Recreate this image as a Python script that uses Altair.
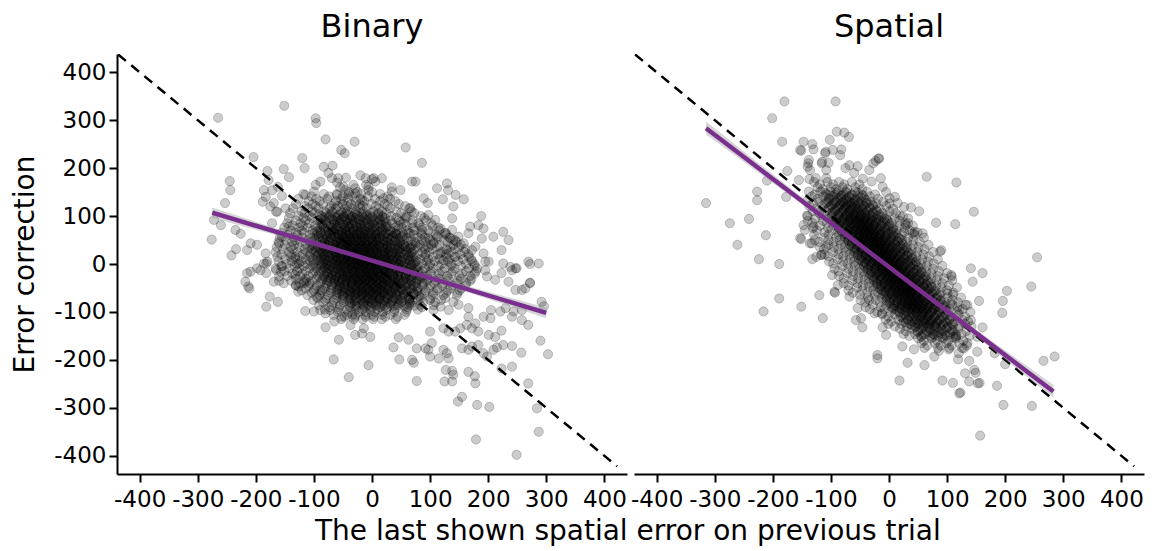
import altair as alt
import pandas as pd

panels = ["Binary", "Spatial"]
tick_values = [-400, -300, -200, -100, 0, 100, 200, 300, 400]

# ---- Binary: scattered points read individually (x, y pairs) ----
binary_outer = [
    -265,305, -151,330, -97,304, -96,294, -80,260, -30,255, -53,238, -47,231, -204,223, -120,221,
    -116,200, -83,203, -68,205, -152,198, -180,194, -178,175, -143,181, -245,173, -244,154, -253,127,
    -186,154, -183,140, -188,130, -172,154, -162,161, -155,142, -149,116, -163,109, -169,127, -115,144,
    -100,151, -97,165, -89,172, -272,92, -260,81, -276,51, -235,71, -226,63, -209,43, -198,40,
    -215,29, -234,31, -242,18, -183,22, -180,5, -186,1, -192,-13, -209,-16, -218,-37, -213,-47,
    -172,85, -165,109, -175,120, -160,43, -155,57, -143,78, -165,-13, -157,-16, -169,-37, -160,-26,
    -152,-40, -132,15, -126,1, -132,-23, -117,-40, -126,-47, -215,-19, -211,-51, -198,-9, -182,1,
    -182,-19, -166,-9, -155,-5, -160,-35, -176,-68, -162,-79, -182,-89, -131,-44, -127,-58, -113,-37,
    -115,-98, -100,-99, -89,-96, -80,-103, -72,-96, -95,-68, -89,-54, -80,-132, -65,-120, -52,-110,
    -57,-158, -66,-199, -40,-236, -6,-211, -37,-127, -29,-148, -17,-145, -3,-152, -14,-134, -34,-106,
    179,-366, 249,-398, 287,-350, 284,-301, 269,-249, 181,-294, 202,-298, 148,-287, 155,-277, 77,-244,
    125,-245, 138,-245, 140,-231, 127,-221, 138,-223, 166,-225, 177,-234, 178,-249, 223,-218, 241,-214,
    37,-174, 47,-199, 69,-200, 72,-206, 77,-176, 92,-176, 100,-193, 97,-179, 115,-197, 123,-179,
    129,-186, 132,-197, 155,-176, 166,-179, 172,-172, 183,-169, 192,-186, 198,-193, 209,-179, 215,-174,
    226,-169, 241,-171, 257,-185, 303,-188, 290,-160, 223,-139, 212,-152, 201,-148, 183,-141, 172,-134,
    163,-127, 152,-134, 143,-141, 132,-141, 123,-134, 269,-127, 258,-117, 241,-110, 46,-153, 63,-158,
    103,-165, 100,-141, 166,-110, 178,-124, 192,-110, 204,-113, 205,-96, 221,-99, 230,-92, 244,-99,
    258,-96, 292,-79, 296,-88, 272,0, 287,1, 272,-40, 258,-54, 247,-54, 235,-37, 241,-13, 249,-9,
    223,-19, 212,-33, 198,-26, 195,-13, 201,5, 166,-92, 149,-85, 140,-79, 132,-96, 118,-89, 106,-96,
    58,243, 86,211, 69,172, 75,172, 3,179, 6,172, 34,160, 49,154, 20,137, 112,158,
    129,168, 131,154, 144,144, 158,135, 122,135, 89,137, 96,127, 66,116, 60,99, 49,88,
    140,120, 138,95, 188,100, 169,78, 183,81, 192,74, 226,67, 235,50, 209,57, 223,29,
    195,5, 226,1, 238,-6, 269,5, 247,-9, 149,57, 158,43, 166,64, 178,36, 189,53,
    172,29, 192,22, 272,-39, 264,-51, 97,102, 109,92, 118,74, 126,64, 138,71, 135,54,
    143,50, 112,57, 97,54, 106,43, 118,22, 123,8, 143,15, 129,29, 80,85, 86,71,
    66,64, 75,43, 89,36, 57,36, 52,57, 40,64, 17,179, 34,151, -6,154, -45,180,
    -32,165, -20,185, -60,170, -75,190, -10,165, -25,150, -40,150, -55,160, 0,150, -69,179,
    -58,179, -49,161, -29,158, -11,179, 0,177, -6,161, -60,144, -46,154, -29,147, -17,133,
]

# ---- Binary: dense core, estimated row by row (row y, then the x of each point) ----
binary_core_y = [146, 141, 136, 131, 125, 121, 116, 110, 106, 100, 96, 91, 85, 80, 76, 70, 65, 61, 55, 50,
                 46, 40, 35, 31, 25, 20, 15, 10, 6, 0, -4, -9, -15, -20, -25, -31, -35, -40, -45, -51,
                 -55, -60, -65, -71, -75, -80, -86, -90, -95, -100, -106, -110, -115]
binary_core_x = [
    [-118,-83,-61,-40,-18,14],
    [-104,-74,-50,-34,-7,27],
    [-127,-96,-77,-53,-41,-20,5,31],
    [-109,-90,-62,-49,-28,-13,14,40],
    [-131,-102,-84,-65,-51,-36,-21,-1,22,46],
    [-116,-97,-70,-59,-43,-30,-16,7,27,57],
    [-136,-110,-92,-73,-62,-46,-36,-20,-9,12,31,64],
    [-121,-103,-83,-69,-53,-43,-27,-15,2,17,42,68],
    [-141,-116,-99,-79,-68,-52,-44,-29,-18,-3,11,25,50,73],
    [-126,-108,-87,-74,-59,-49,-35,-25,-10,1,18,33,57,84],
    [-143,-118,-103,-85,-73,-59,-50,-37,-28,-14,-4,11,22,42,58,90],
    [-131,-114,-93,-81,-66,-56,-43,-34,-20,-10,4,14,32,46,70,93],
    [-146,-123,-108,-89,-78,-64,-55,-42,-34,-21,-13,0,9,24,35,54,70,102],
    [-136,-119,-98,-86,-71,-61,-48,-39,-27,-18,-5,4,17,27,45,59,82,104],
    [-151,-126,-111,-94,-83,-69,-60,-47,-39,-27,-19,-7,1,14,24,40,51,70,86,114],
    [-140,-121,-102,-90,-75,-65,-52,-44,-32,-24,-12,-4,9,18,32,43,60,73,97,116],
    [-156,-131,-117,-99,-88,-74,-65,-53,-45,-34,-26,-15,-7,5,13,26,36,52,63,84,100,127],
    [-145,-128,-107,-95,-80,-71,-58,-50,-39,-31,-20,-12,-1,7,19,28,42,54,72,86,110,128],
    [-159,-135,-120,-103,-92,-78,-69,-57,-49,-38,-31,-20,-13,-2,7,14,26,35,49,60,78,91,114,133],
    [-148,-131,-110,-99,-85,-75,-62,-54,-43,-36,-25,-18,-7,0,11,19,31,41,55,67,86,100,124,140],
    [-161,-138,-123,-106,-95,-81,-72,-60,-53,-42,-35,-25,-18,-8,1,8,19,27,39,48,63,74,92,106,130,146],
    [-150,-134,-114,-102,-87,-78,-65,-57,-46,-39,-29,-22,-12,-5,5,12,24,32,45,55,70,82,102,116,140,153],
    [-164,-140,-125,-108,-97,-83,-74,-62,-55,-44,-37,-27,-20,-10,-4,6,13,24,32,44,53,67,79,97,112,135,150],
    [-153,-136,-116,-104,-89,-80,-67,-59,-48,-41,-31,-25,-14,-8,2,9,20,27,39,48,62,73,91,104,127,143,161],
    [-166,-143,-128,-111,-100,-86,-77,-65,-58,-47,-40,-30,-24,-13,-7,3,9,20,27,38,46,59,69,86,98,120,136,159],
    [-156,-139,-119,-107,-92,-83,-70,-62,-51,-44,-34,-28,-17,-11,-1,5,16,23,34,42,55,65,80,92,113,128,152,166],
    [-163,-140,-124,-107,-96,-83,-74,-62,-55,-44,-38,-27,-21,-11,-5,5,11,22,29,41,49,63,74,91,105,128,144,167],
    [-149,-132,-114,-102,-88,-79,-67,-59,-48,-42,-31,-25,-15,-9,1,7,18,25,36,44,57,67,83,97,116,133,157,171],
    [-161,-138,-122,-106,-95,-81,-73,-61,-54,-43,-37,-26,-20,-10,-4,6,12,23,30,42,51,65,76,94,108,131,148,172],
    [-147,-129,-111,-100,-86,-77,-65,-57,-46,-40,-29,-23,-13,-7,3,9,19,26,38,46,59,70,86,100,120,137,162,176],
    [-156,-133,-118,-102,-91,-78,-70,-58,-51,-40,-34,-23,-17,-7,-1,9,15,26,33,45,54,68,80,98,114,136,153,177],
    [-142,-125,-107,-96,-82,-73,-61,-53,-42,-36,-25,-19,-9,-3,7,13,24,31,43,51,64,75,91,105,125,142,167,181],
    [-151,-129,-114,-98,-88,-75,-66,-54,-47,-36,-30,-20,-11,-5,5,11,22,29,40,48,61,71,87,101,121,139,162,179],
    [-137,-120,-102,-91,-77,-68,-56,-49,-38,-31,-21,-14,-4,2,12,19,30,37,49,58,72,84,101,116,137,155,177],
    [-146,-124,-109,-93,-83,-70,-62,-50,-43,-32,-26,-15,-9,1,7,18,25,36,44,57,67,82,95,114,130,151,169],
    [-131,-114,-96,-85,-71,-62,-50,-43,-32,-25,-15,-8,2,8,19,26,37,45,58,68,83,96,115,131,153,171],
    [-139,-117,-103,-87,-77,-64,-56,-44,-37,-26,-20,-9,-3,7,14,25,32,44,53,67,78,95,109,129,147,169],
    [-124,-107,-89,-78,-64,-55,-43,-35,-24,-17,-6,1,12,19,30,38,51,61,76,89,107,123,145,162],
    [-131,-109,-95,-79,-69,-56,-48,-36,-29,-18,-11,0,7,18,25,37,46,60,71,87,101,121,139,161],
    [-114,-98,-81,-70,-56,-47,-35,-27,-16,-9,2,9,20,28,41,51,66,79,97,113,135,154],
    [-121,-100,-86,-71,-61,-48,-40,-28,-21,-10,-3,8,15,27,36,50,61,78,92,112,130,151],
    [-104,-88,-71,-60,-46,-37,-25,-17,-5,2,13,21,34,44,59,72,90,106,128,147],
    [-111,-90,-76,-61,-51,-38,-30,-18,-10,1,8,20,29,43,54,71,85,105,123,146],
    [-94,-78,-61,-50,-36,-27,-14,-6,6,14,27,37,52,65,84,101,126],
    [-101,-80,-66,-51,-41,-28,-19,-7,1,13,22,36,47,64,79,100,119],
    [-84,-67,-49,-38,-24,-14,-1,8,22,33,50,65,88,109],
    [-91,-69,-55,-39,-29,-15,-6,7,17,32,45,64,83,106],
    [-74,-56,-38,-26,-11,-1,14,26,44,61,86],
    [-81,-58,-43,-27,-16,-2,9,25,39,60,79],
    [-59,-41,-23,-11,5,18,38,59],
    [-66,-43,-29,-12,0,17,32,56],
    [-47,-29,-11,3,23,44],
    [-53,-31,-16,2,17,41],
]

# ---- Binary: darkest centre, extra overlapping points between the rows above ----
binary_inner_y = [103, 98, 93, 88, 83, 78, 73, 68, 63, 58, 53, 48, 43, 38, 33, 28, 23, 18, 13, 8,
                  3, -2, -7, -12, -17, -22, -27, -32, -37, -42, -47, -52, -57, -62, -67, -72, -77, -82, -87]
binary_inner_x = [
    [-91,-72,-56,-41,-26,-9,10],
    [-82,-64,-48,-33,-17,0,18],
    [-88,-69,-53,-38,-23,-6,13],
    [-79,-61,-45,-30,-14,3,21],
    [-85,-66,-50,-35,-20,-3,16],
    [-76,-58,-42,-27,-11,6,24],
    [-82,-63,-47,-32,-17,0,19],
    [-95,-80,-67,-55,-44,-33,-22,-11,2,16,33],
    [-88,-73,-60,-49,-38,-27,-16,-4,9,24,42],
    [-92,-77,-64,-52,-41,-30,-19,-8,5,19,36],
    [-85,-70,-57,-46,-35,-24,-13,-1,12,27,45],
    [-89,-74,-61,-49,-38,-27,-16,-5,8,22,39],
    [-82,-67,-54,-43,-32,-21,-10,2,15,30,48],
    [-100,-86,-73,-61,-50,-40,-30,-20,-10,1,13,26,40,56],
    [-93,-78,-66,-55,-44,-34,-24,-14,-4,7,19,32,47,65],
    [-97,-83,-70,-58,-47,-37,-27,-17,-7,4,16,29,43,59],
    [-90,-75,-63,-52,-41,-31,-21,-11,-1,10,22,35,50,68],
    [-94,-80,-67,-55,-44,-34,-24,-14,-4,7,19,32,46,62],
    [-87,-72,-60,-49,-38,-28,-18,-8,2,13,25,38,53,71],
    [-91,-77,-64,-52,-41,-31,-21,-11,-1,10,22,35,49,65],
    [-84,-69,-57,-46,-35,-25,-15,-5,5,16,28,41,56,74],
    [-88,-74,-61,-49,-38,-28,-18,-8,2,13,25,38,52,68],
    [-81,-66,-54,-43,-32,-22,-12,-2,8,19,31,44,59,77],
    [-85,-71,-58,-46,-35,-25,-15,-5,5,16,28,41,55,71],
    [-78,-63,-51,-40,-29,-19,-9,1,11,22,34,47,62,80],
    [-82,-68,-55,-43,-32,-22,-12,-2,8,19,31,44,58,74],
    [-75,-60,-48,-37,-26,-16,-6,4,14,25,37,50,65,83],
    [-79,-65,-52,-40,-29,-19,-9,1,11,22,34,47,61,77],
    [-72,-57,-45,-34,-23,-13,-3,7,17,28,40,53,68,86],
    [-62,-47,-34,-22,-11,0,11,22,35,49,66],
    [-55,-40,-27,-16,-5,6,17,29,42,57,75],
    [-59,-44,-31,-19,-8,3,14,25,38,52,69],
    [-52,-37,-24,-13,-2,9,20,32,45,60,78],
    [-56,-41,-28,-16,-5,6,17,28,41,55,72],
    [-49,-34,-21,-10,1,12,23,35,48,63,81],
    [-38,-19,-3,12,27,44,63],
    [-30,-12,4,19,35,52,70],
    [-35,-16,0,15,30,47,66],
    [-27,-9,7,22,38,55,73],
]

# ---- Spatial: scattered points read individually (x, y pairs) ----
spatial_outer = [
    -180,339, -92,339, -201,304, -184,255, -147,255, -132,250, -130,239, -151,236, -102,259, -90,276,
    -77,274, -69,265, -82,239, -97,238, -109,234, -115,213, -104,211, -84,227, -138,217, -140,203,
    -68,206, -54,204, -34,196, -23,215, -18,220, -175,194, -210,174, -227,151, -227,133, -315,127,
    -177,140, -155,175, -137,177, -126,179, -108,179, -274,85, -241,94, -261,40, -212,60, -224,10,
    -189,0, -140,100, -147,81, -130,78, -151,52, -136,43, -132,10, -117,19, -189,-72, -216,-99,
    -151,-89, -120,-65, -114,-113, -98,-23, -94,-58, -88,-44, -68,-68, -54,-92, -48,-113, -57,-117,
    -46,-132, -34,-75, -25,-103, -12,-103, -11,-132, -5,-148, -20,-190, -20,-197, 65,182, 116,170,
    146,109, 81,86, 114,83, 255,14, 88,26, 141,-9, 161,-19, 108,-26, 144,-37, 203,-56,
    196,-77, 195,-102, 245,-47, 155,-77, 135,-86, 121,-96, 101,-61, 106,-82, 141,-117, 161,-132,
    152,-152, 135,-165, 115,-152, 129,-176, 119,-199, 138,-202, 152,-183, 182,-186, 200,-209, 266,-202,
    285,-193, 186,-254, 197,-294, 246,-296, 157,-358, 92,-243, 110,-248, 123,-268, 131,-228, 149,-227,
    156,-248, 18,-243, 61,-211, 32,-206, 23,-172, 43,-178, 78,-193, 86,-181, 103,-178, 120,-186,
    -17,220, -14,179, -11,161, 1,137, 15,127, 26,119, 38,118, 29,81, 41,64, -93,-60,
    121,-270, 138,-245, 147,-221, 153,-249, 24,99, 33,85, 44,67, 58,64, 90,29, 107,-23,
    -153,54, -133,43, -145,71, -125,15, -116,19, -108,36, -110,231, -116,210, -108,196, -139,210,
    -136,196, -27,210, -153,238, -60,190, -45,178, -30,172, -75,200, -5,150, 10,140, 52,110,
]

# ---- Spatial: dense core, estimated row by row ----
spatial_core_y = [171, 166, 160, 156, 151, 145, 141, 136, 130, 126, 121, 115, 110, 106, 101, 95, 90, 86, 80, 75,
                  70, 66, 61, 55, 50, 46, 40, 35, 31, 25, 20, 16, 10, 5, 1, -4, -10, -15, -19, -25,
                  -30, -34, -40, -45, -49, -55, -60, -64, -70, -75, -80, -85, -90, -94, -100, -105, -110, -116, -120, -125,
                  -130, -135, -140, -146, -150, -155, -160, -165, -170, -175]
spatial_core_x = [
    [-129,-106,-86,-64],
    [-119,-96,-77,-51],
    [-123,-100,-80,-58],
    [-114,-91,-72,-46],
    [-138,-118,-101,-87,-74,-58,-38],
    [-128,-108,-92,-78,-64,-47,-24],
    [-133,-113,-96,-82,-69,-53,-33],
    [-123,-103,-87,-73,-59,-42,-19],
    [-142,-120,-104,-91,-80,-70,-60,-48,-32,-10],
    [-131,-110,-95,-83,-73,-63,-52,-39,-22,1],
    [-137,-115,-99,-86,-75,-65,-55,-43,-27,-5],
    [-125,-104,-89,-77,-67,-57,-46,-33,-16,7],
    [-131,-109,-93,-80,-69,-59,-49,-37,-21,1],
    [-120,-99,-84,-72,-62,-52,-41,-28,-11,12],
    [-141,-116,-99,-86,-75,-66,-58,-50,-42,-32,-20,-4,19],
    [-127,-104,-89,-77,-67,-58,-50,-42,-33,-22,-8,10,33],
    [-140,-114,-96,-83,-72,-62,-54,-45,-38,-29,-17,-2,18],
    [-132,-107,-90,-77,-66,-57,-49,-41,-33,-23,-11,5,28],
    [-119,-96,-81,-69,-59,-50,-42,-34,-25,-14,0,18,41],
    [-131,-105,-87,-74,-63,-53,-45,-36,-29,-20,-8,7,27],
    [-124,-99,-82,-69,-58,-49,-41,-33,-25,-15,-3,13,36],
    [-111,-88,-73,-61,-51,-42,-34,-26,-17,-6,8,26,49],
    [-129,-104,-86,-72,-61,-52,-44,-37,-30,-23,-15,-6,6,22,44],
    [-112,-91,-75,-63,-53,-44,-36,-29,-22,-15,-7,3,16,33,60],
    [-128,-104,-85,-70,-58,-48,-40,-33,-26,-19,-12,-3,8,22,42],
    [-120,-95,-77,-63,-52,-43,-35,-28,-21,-14,-6,3,15,31,53],
    [-104,-83,-67,-55,-45,-36,-28,-21,-14,-7,1,11,24,41,68],
    [-119,-95,-76,-61,-49,-39,-31,-24,-17,-10,-3,6,17,31,51],
    [-112,-87,-69,-55,-44,-35,-27,-20,-13,-6,2,11,23,39,61],
    [-96,-75,-59,-47,-37,-28,-20,-13,-6,1,9,19,32,49,76],
    [-111,-87,-68,-53,-41,-31,-23,-16,-9,-2,5,14,25,39,59],
    [-104,-79,-61,-47,-36,-27,-19,-12,-5,2,10,19,31,47,69],
    [-88,-67,-51,-39,-29,-20,-12,-5,2,9,17,27,40,57,84],
    [-103,-79,-60,-45,-33,-23,-15,-8,-1,6,13,22,33,47,67],
    [-96,-71,-53,-39,-28,-19,-11,-4,3,10,18,27,39,55,77],
    [-80,-59,-43,-31,-21,-12,-4,3,10,17,25,35,48,65,92],
    [-94,-70,-51,-36,-24,-14,-6,1,8,15,22,31,42,56,76],
    [-87,-62,-44,-30,-19,-10,-2,5,12,19,27,36,48,64,86],
    [-72,-51,-35,-23,-13,-4,4,11,18,25,33,43,56,73,100],
    [-86,-62,-43,-28,-16,-6,2,9,16,23,30,39,50,64,84],
    [-78,-53,-35,-21,-10,-1,7,14,21,28,36,45,57,73,95],
    [-63,-42,-26,-14,-4,5,13,20,27,34,42,52,65,82,109],
    [-78,-54,-35,-20,-8,2,10,17,24,31,38,47,58,72,92],
    [-70,-45,-27,-13,-2,7,15,22,29,36,44,53,65,81,103],
    [-55,-34,-18,-6,4,13,21,28,35,42,50,60,73,90,117],
    [-70,-46,-27,-12,0,10,18,25,32,39,46,55,66,80,100],
    [-62,-37,-19,-5,6,15,23,30,37,44,52,61,73,89,111],
    [-50,-25,-8,5,16,25,33,41,49,59,71,87,110],
    [-36,-13,2,14,24,33,41,49,58,69,83,101,124],
    [-49,-23,-5,8,19,29,37,46,53,62,74,89,109],
    [-41,-16,1,14,25,34,42,50,58,68,80,96,119],
    [-28,-5,10,22,32,41,49,57,66,77,91,109,132],
    [-40,-14,4,17,28,38,46,55,62,71,83,98,118],
    [-33,-8,9,22,33,42,50,58,66,76,88,104,127],
    [-20,3,18,30,40,49,57,65,74,85,99,117,140],
    [-12,10,26,39,50,60,70,82,98,120],
    [-1,20,35,47,57,67,78,91,108,131],
    [-6,16,32,45,56,66,76,88,104,126],
    [4,25,40,52,62,72,83,96,113,136],
    [-1,21,37,50,61,71,81,93,109,131],
    [10,31,46,58,68,78,89,102,119,142],
    [19,39,56,70,83,99,119],
    [29,49,65,79,93,110,133],
    [25,45,62,76,89,105,125],
    [35,55,71,85,99,116,139],
    [50,73,93,115],
    [60,83,102,128],
    [56,79,99,121],
    [66,89,108,134],
    [61,84,104,126],
]

# ---- Spatial: darkest centre, extra overlapping points between the rows above ----
spatial_inner_y = [148, 143, 138, 133, 128, 123, 118, 113, 108, 103, 98, 93, 88, 83, 78, 73, 68, 63, 58, 53,
                   48, 43, 38, 33, 28, 23, 18, 13, 8, 3, -2, -7, -12, -17, -22, -27, -32, -37, -42, -47,
                   -52, -57, -62, -67, -72, -77, -82, -87, -92, -97, -102, -107, -112, -117, -122, -127,
                   -132, -137, -142, -147, -152]
spatial_inner_x = [
    [-109,-90,-73,-54],
    [-101,-82,-64,-45],
    [-104,-85,-68,-49],
    [-95,-76,-58,-39],
    [-108,-92,-79,-67,-54,-38],
    [-99,-84,-71,-59,-45,-28],
    [-103,-87,-74,-62,-49,-33],
    [-93,-78,-65,-53,-39,-22],
    [-97,-81,-68,-56,-43,-27],
    [-88,-73,-60,-48,-34,-17],
    [-98,-86,-76,-67,-58,-49,-39,-27,-13],
    [-91,-78,-68,-59,-50,-41,-30,-18,-4],
    [-92,-80,-70,-61,-52,-43,-33,-21,-7],
    [-86,-73,-63,-54,-45,-36,-25,-13,1],
    [-87,-75,-65,-56,-47,-38,-28,-16,-2],
    [-80,-67,-57,-48,-39,-30,-19,-7,7],
    [-81,-69,-59,-50,-41,-32,-22,-10,4],
    [-75,-62,-52,-43,-34,-25,-14,-2,12],
    [-76,-64,-54,-45,-36,-27,-17,-5,9],
    [-69,-56,-46,-37,-28,-19,-8,4,18],
    [-70,-58,-48,-39,-30,-21,-11,1,15],
    [-64,-51,-41,-32,-23,-14,-3,9,23],
    [-65,-53,-43,-34,-25,-16,-6,6,20],
    [-58,-45,-35,-26,-17,-8,3,15,29],
    [-59,-47,-37,-28,-19,-10,0,12,26],
    [-53,-40,-30,-21,-12,-3,8,20,34],
    [-54,-42,-32,-23,-14,-5,5,17,31],
    [-47,-34,-24,-15,-6,3,14,26,40],
    [-48,-36,-26,-17,-8,1,11,23,37],
    [-42,-29,-19,-10,-1,8,19,31,45],
    [-43,-31,-21,-12,-3,6,16,28,42],
    [-36,-23,-13,-4,5,14,25,37,51],
    [-37,-25,-15,-6,3,12,22,34,48],
    [-31,-18,-8,1,10,19,30,42,56],
    [-32,-20,-10,-1,8,17,27,39,53],
    [-25,-12,-2,7,16,25,36,48,62],
    [-26,-14,-4,5,14,23,33,45,59],
    [-20,-7,3,12,21,30,41,53,67],
    [-21,-9,1,10,19,28,38,50,64],
    [-14,-1,9,18,27,36,47,59,73],
    [-15,-3,7,16,25,34,44,56,70],
    [-9,4,14,23,32,41,52,64,78],
    [-10,2,12,21,30,39,49,61,75],
    [-3,10,20,29,38,47,58,70,84],
    [-4,8,18,27,36,45,55,67,81],
    [2,15,25,34,43,52,63,75,89],
    [1,13,23,32,41,50,60,72,86],
    [8,21,31,40,49,58,69,81,95],
    [7,19,29,38,47,56,66,78,92],
    [13,26,36,45,54,63,74,86,100],
    [18,34,47,59,72,88],
    [28,43,56,68,82,99],
    [24,40,53,65,78,94],
    [33,48,61,73,87,104],
    [29,45,58,70,83,99],
    [39,54,67,79,93,110],
    [45,64,81,100],
    [53,72,90,109],
    [50,69,86,105],
    [59,78,96,115],
    [56,75,92,111],
]

# ---- reference lines ----
diag_x = [-437, 422]
diag_y = [437, -422]
fit_x = {"Binary": [-275, 300], "Spatial": [-315, 283]}
fit_y = {"Binary": [107, -102], "Spatial": [283, -266]}
band_x = {"Binary": [-275, -140, 0, 150, 300], "Spatial": [-315, -150, 0, 150, 283]}
band_lo = {"Binary": [96, 52, 4, -53, -113], "Spatial": [270, 125, -10, -151, -279]}
band_hi = {"Binary": [118, 64, 11, -41, -91], "Spatial": [297, 139, -2, -137, -252]}

rows = []
for panel, outer, groups in [
    ("Binary", binary_outer, [(binary_core_y, binary_core_x), (binary_inner_y, binary_inner_x)]),
    ("Spatial", spatial_outer, [(spatial_core_y, spatial_core_x), (spatial_inner_y, spatial_inner_x)]),
]:
    for i in range(0, len(outer), 2):
        rows.append({"panel": panel, "kind": "pt", "x": outer[i], "y": outer[i + 1]})
    for gy, gx in groups:
        for yy, xs in zip(gy, gx):
            for xx in xs:
                rows.append({"panel": panel, "kind": "pt", "x": xx, "y": yy})
    for xx, yy in zip(diag_x, diag_y):
        rows.append({"panel": panel, "kind": "diag", "x": xx, "y": yy})
    for xx, yy in zip(fit_x[panel], fit_y[panel]):
        rows.append({"panel": panel, "kind": "fit", "x": xx, "y": yy})
    for xx, lo, hi in zip(band_x[panel], band_lo[panel], band_hi[panel]):
        rows.append({"panel": panel, "kind": "band", "x": xx, "lo": lo, "hi": hi})
df = pd.DataFrame(rows)

FONT = "DejaVu Sans"
xscale = alt.Scale(domain=[-439, 439], nice=False, zero=False)
yscale = alt.Scale(domain=[-438, 438], nice=False, zero=False)
common_axis = dict(values=tick_values, labelExpr="'' + datum.value", labelFont=FONT, labelFontSize=23,
                   labelColor="black", labelOverlap=False, labelFlush=False, tickColor="black", tickSize=8,
                   tickWidth=2, domainColor="black", domainWidth=2, grid=False, titleFont=FONT,
                   titleFontSize=28, titleFontWeight="normal", titleColor="black")
xaxis = alt.Axis(title=None, labelPadding=6, **common_axis)
yaxis = alt.Axis(title="Error correction", labelPadding=3, titlePadding=14, **common_axis)

X = alt.X("x:Q", scale=xscale, axis=xaxis)
Y = alt.Y("y:Q", scale=yscale, axis=yaxis)

points = alt.Chart().transform_filter(alt.datum.kind == "pt").mark_circle(
    size=85, fill="black", fillOpacity=0.2, stroke="black", strokeOpacity=0.2, strokeWidth=1, opacity=1, clip=True
).encode(x=X, y=Y)
diag = alt.Chart().transform_filter(alt.datum.kind == "diag").mark_line(
    color="black", strokeWidth=2.5, strokeDash=[10, 7], clip=True
).encode(x=X, y=Y)
band = alt.Chart().transform_filter(alt.datum.kind == "band").mark_area(
    color="#999999", opacity=0.4, clip=True
).encode(x=X, y=alt.Y("lo:Q", scale=yscale, axis=yaxis), y2="hi:Q")
fit = alt.Chart().transform_filter(alt.datum.kind == "fit").mark_line(
    color="#7a2e8e", strokeWidth=4.5, clip=True
).encode(x=X, y=Y)

chart = alt.layer(points, diag, band, fit, data=df).properties(width=510, height=420).facet(
    column=alt.Column("panel:N", sort=panels, title=None,
                      header=alt.Header(labelFont=FONT, labelFontSize=32, labelColor="black", labelPadding=10)),
    spacing=7,
).configure_view(strokeWidth=0).properties(
    title=alt.TitleParams(text="The last shown spatial error on previous trial", orient="bottom", anchor="middle",
                          font=FONT, fontSize=28, fontWeight="normal", color="black", offset=7, dx=50),
    padding={"left": 11, "top": 11, "right": 12, "bottom": 0}, background="white"
)

chart.save("out.html", embed_options={"renderer": "svg", "actions": False})
